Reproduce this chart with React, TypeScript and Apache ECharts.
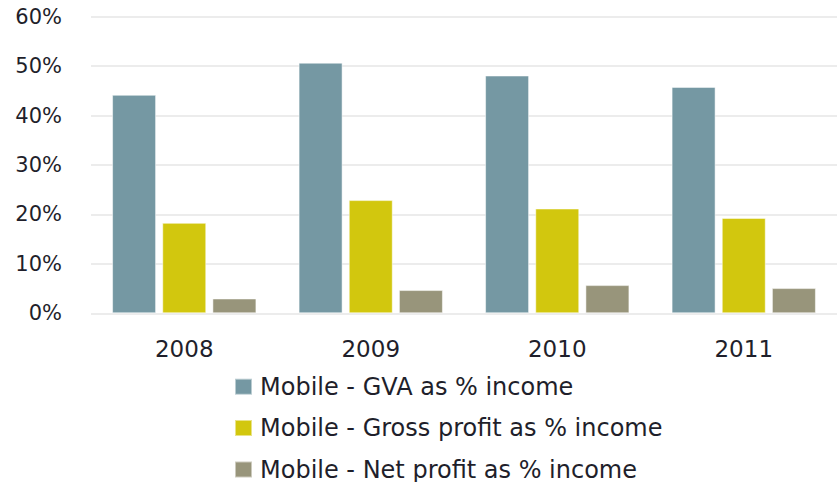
import React, { useEffect, useRef } from "react";
import * as echarts from "echarts";

const years = ["2008", "2009", "2010", "2011"];
const gvaPct = [44.2, 50.7, 48.1, 45.8];
const grossPct = [18.3, 22.9, 21.2, 19.3];
const netPct = [3.0, 4.7, 5.7, 5.1];
const seriesNames = [
  "Mobile - GVA as % income",
  "Mobile - Gross profit as % income",
  "Mobile - Net profit as % income",
];
const colors = ["#7598A3", "#D2C70E", "#98957B"];

export default function App() {
  const ref = useRef<HTMLDivElement>(null);
  useEffect(() => {
    if (!ref.current) return;
    const chart = echarts.init(ref.current, undefined, { renderer: "svg" });
    const font = "DejaVu Sans";
    const textColor = "#1f1f2b";
    const mk = (name: string, data: number[], color: string) => ({
      name,
      type: "bar",
      data,
      barWidth: 44,
      barGap: "14%",
      itemStyle: { color, borderColor: "rgba(255,255,255,0.5)", borderWidth: 1 },
    });
    const legendCenters = [386.7, 428, 469.5];
    const legends = seriesNames.map((n, i) => ({
      orient: "vertical",
      left: 234,
      top: legendCenters[i] - 13,
      padding: 0,
      itemWidth: 17,
      itemHeight: 16,
      icon: "rect",
      textStyle: {
        fontFamily: font,
        fontSize: 24,
        lineHeight: 26,
        color: textColor,
        padding: [0, 0, 0, 3],
      },
      data: [n],
    }));
    chart.setOption({
      animation: false,
      color: colors,
      grid: { left: 91, width: 749, top: 16.7, bottom: 168.7, containLabel: false },
      legend: legends,
      xAxis: {
        type: "category",
        data: years,
        axisLine: { show: false },
        axisTick: { show: false },
        axisLabel: { fontFamily: font, fontSize: 23, color: textColor, margin: 24 },
      },
      yAxis: {
        type: "value",
        min: 0,
        max: 60,
        interval: 10,
        axisLine: { show: false },
        axisTick: { show: false },
        splitLine: { lineStyle: { color: "#ececec", width: 2 } },
        axisLabel: {
          formatter: "{value}%",
          fontFamily: font,
          fontSize: 21,
          color: textColor,
          margin: 29,
        },
      },
      series: [
        mk(seriesNames[0], gvaPct, colors[0]),
        mk(seriesNames[1], grossPct, colors[1]),
        mk(seriesNames[2], netPct, colors[2]),
      ],
    });
    return () => chart.dispose();
  }, []);
  return (
    <div
      ref={ref}
      style={{ position: "fixed", left: 0, top: 0, width: 837, height: 482, background: "#fff" }}
    />
  );
}
